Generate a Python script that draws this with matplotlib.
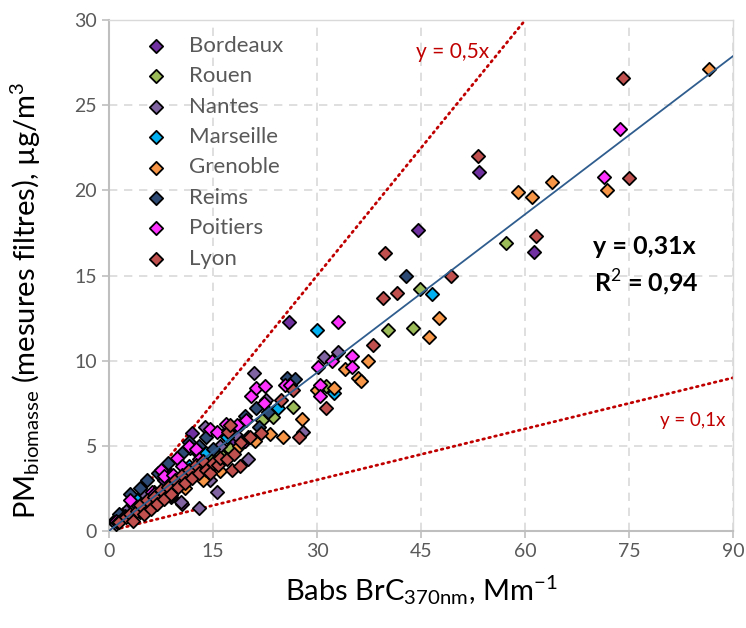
'''Scatter of PM biomasse vs Babs BrC 370nm, per city, with fit and 0.1x/0.5x bounds'''

import matplotlib
matplotlib.use("Agg")
import matplotlib.pyplot as plt

plt.rcParams['font.family'] = ['Lato', 'DejaVu Sans']
plt.rcParams['mathtext.fontset'] = 'custom'
plt.rcParams['mathtext.rm'] = 'Lato'

# data
cities = ["Bordeaux", "Rouen", "Nantes", "Marseille", "Grenoble", "Reims", "Poitiers", "Lyon"]
colors = ["#7030A0", "#9BBB59", "#8064A2", "#00B0F0", "#F79646", "#2C4A74", "#FF33FF", "#C0504D"]

bordeaux_x = [0.8, 2.0, 3.5, 8.0, 10.5, 12.0, 14.0, 18.0, 26.0, 44.6, 53.4, 61.2]
bordeaux_y = [0.6, 1.0, 1.6, 3.0, 1.6, 5.75, 4.5, 5.2, 12.3, 17.7, 21.1, 16.4]

rouen_x = [1.5, 3.0, 5.0, 6.5, 8.0, 9.5, 11.0, 12.5, 14.5, 16.0, 17.5, 22.0, 23.7, 26.5,
           31.3, 40.2, 43.8, 44.9, 57.3]
rouen_y = [0.8, 1.2, 1.5, 2.3, 2.0, 2.8, 3.0, 3.7, 4.2, 4.5, 4.8, 6.5, 6.7, 7.3,
           8.5, 11.8, 11.9, 14.2, 16.9]

nantes_x = [1.0, 2.5, 5.0, 9.0, 10.4, 11.7, 13.0, 13.8, 14.5, 15.6, 16.0, 18.5, 20.0, 20.9,
            22.6, 28.0, 31.0, 33.0]
nantes_y = [0.4, 1.2, 2.2, 2.0, 1.7, 4.9, 1.35, 6.1, 3.0, 2.3, 5.0, 5.6, 4.2, 9.3,
            7.7, 5.8, 10.2, 10.5]

marseille_x = [2.0, 4.0, 6.0, 9.0, 11.5, 13.0, 14.0, 17.0, 19.0, 24.4, 30.0, 32.5, 46.6]
marseille_y = [0.9, 1.8, 2.0, 3.3, 3.8, 4.5, 4.6, 5.5, 6.3, 7.2, 11.8, 8.1, 13.9]

grenoble_x = [3.0, 5.0, 7.0, 9.0, 11.0, 13.5, 16.0, 18.8, 21.1, 23.2, 25.1, 27.8, 30.0, 32.4,
              34.0, 35.9, 36.3, 37.4, 46.2, 47.6, 59.0, 61.0, 63.8, 71.8, 86.5]
grenoble_y = [0.8, 1.2, 1.8, 2.1, 2.5, 3.0, 3.5, 5.0, 5.3, 5.7, 5.5, 6.6, 8.3, 8.4,
              9.5, 9.0, 8.8, 10.0, 11.4, 12.5, 19.9, 19.6, 20.5, 20.0, 27.1]

reims_x = [1.5, 3.0, 4.5, 5.5, 7.1, 8.5, 10.5, 11.5, 13.0, 14.0, 15.0, 17.3, 19.6, 21.2,
           21.6, 23.0, 25.7, 26.8, 42.8]
reims_y = [1.0, 2.2, 2.5, 3.0, 3.4, 4.0, 4.6, 5.2, 5.0, 5.5, 4.8, 6.0, 6.75, 7.2,
           6.1, 7.0, 9.0, 8.9, 15.0]

poitiers_x = [1.0, 1.3, 2.3, 3.0, 4.5, 5.2, 6.2, 6.5, 7.5, 8.0, 9.2, 9.8, 10.5, 11.5, 12.5,
              13.0, 14.5, 15.6, 16.9, 18.5, 19.6, 19.8, 20.5, 21.2, 22.4, 22.5, 25.4, 26.1,
              30.1, 30.4, 30.4, 32.2, 33.0, 35.0, 35.0, 71.3, 73.7]
poitiers_y = [0.6, 0.5, 0.9, 1.8, 1.1, 1.4, 2.3, 2.2, 3.6, 3.2, 3.3, 4.3, 3.8, 5.0, 4.8,
              4.2, 6.0, 5.8, 6.3, 6.2, 5.3, 6.5, 7.9, 8.4, 7.5, 8.5, 8.6, 8.6,
              9.6, 8.6, 7.9, 10.0, 12.3, 10.3, 9.6, 20.8, 23.6]

lyon_x = [1.5, 2.5, 3.0, 3.5, 4.0, 4.5, 5.0, 5.5, 6.0, 6.5, 7.0, 7.5, 8.0, 8.5, 9.0, 9.5,
          10.0, 10.5, 11.0, 11.5, 12.0, 12.5, 13.0, 13.5, 14.0, 14.6, 15.0, 15.7, 16.0,
          17.0, 17.2, 17.5, 17.7, 18.0, 18.9, 19.0, 20.0, 20.3, 21.9, 24.8, 26.5, 27.4,
          31.3, 38.1, 39.5, 39.8, 41.5, 49.3, 53.2, 61.6, 74.1, 75.0]
lyon_y = [0.5, 0.8, 1.0, 0.6, 1.2, 1.5, 1.0, 1.8, 1.3, 2.0, 1.6, 2.4, 1.9, 2.6, 2.2, 3.0,
          2.6, 3.3, 2.8, 3.6, 3.1, 3.9, 3.4, 4.1, 3.6, 3.4, 4.0, 3.9, 4.3,
          4.2, 5.8, 6.2, 3.6, 4.5, 3.8, 5.2, 5.5, 5.5, 5.75, 7.7, 8.3, 5.5,
          7.2, 10.9, 13.7, 16.3, 14.0, 15.0, 22.0, 17.3, 26.6, 20.7]

series_x = [bordeaux_x, rouen_x, nantes_x, marseille_x, grenoble_x, reims_x, poitiers_x, lyon_x]
series_y = [bordeaux_y, rouen_y, nantes_y, marseille_y, grenoble_y, reims_y, poitiers_y, lyon_y]

slope_fit = 0.31
r2 = 0.94
bounds = [0.5, 0.1]

grey = "#595959"

fig, ax = plt.subplots(figsize=(7.46, 6.28), dpi=100)
fig.subplots_adjust(left=0.146, right=0.983, bottom=0.1545, top=0.968)

# reference lines
ax.plot([0, 60], [0, 60 * bounds[0]], color="#C00000", lw=2, ls=(0, (0.6, 1.6)),
        dash_capstyle='round', zorder=1)
ax.plot([0, 90], [0, 90 * bounds[1]], color="#C00000", lw=2, ls=(0, (0.6, 1.6)),
        dash_capstyle='round', zorder=1)

for name, col, xs, ys in zip(cities, colors, series_x, series_y):
    ax.scatter(xs, ys, marker='D', s=46, facecolor=col, edgecolor='black',
               linewidths=1.3, label=name, zorder=3)

# fit line
ax.plot([0, 90], [0, 90 * slope_fit], color="#2F5D8E", lw=1.3, zorder=4)

ax.text(49.5, 28.1, "y = 0,5x", color="#C00000", fontsize=15, ha='center', va='center')
ax.text(84.1, 6.5, "y = 0,1x", color="#C00000", fontsize=13.5, ha='center', va='center')
ax.text(77.2, 16.7, "y = 0,31x", color="black", fontsize=18, fontweight='bold',
        ha='center', va='center')
ax.text(77.4, 14.6, "R$^{2}$ = " + "{:.2f}".format(r2).replace(".", ","),
        color="black", fontsize=18, fontweight='bold', ha='center', va='center')

ax.set_xlim(0, 90)
ax.set_ylim(0, 30)
ax.set_xticks(range(0, 91, 15))
ax.set_yticks(range(0, 31, 5))
ax.grid(True, color="#D9D9D9", ls=(0, (5, 4)), lw=1.2, zorder=0)
ax.set_axisbelow(True)
for side in ['left', 'bottom']:
    ax.spines[side].set_color("#BFBFBF")
    ax.spines[side].set_linewidth(1.5)
for side in ['top', 'right']:
    ax.spines[side].set_color("#D9D9D9")
    ax.spines[side].set_linewidth(1.0)
ax.tick_params(colors="#BFBFBF", labelcolor=grey, labelsize=14, length=5, width=1.2)

ax.set_ylabel(r"PM$\mathregular{_{biomasse}}$ (mesures filtres), µg/m$\mathregular{^{3}}$",
              fontsize=21, color="black")
ax.yaxis.set_label_coords(-0.105, 0.452)
ax.set_xlabel(r"Babs BrC$\mathregular{_{370nm}}$, Mm$\mathregular{^{-1}}$",
              fontsize=21, color="black", labelpad=10)

leg = ax.legend(loc='upper left', bbox_to_anchor=(0.015, 1.0), frameon=False,
                fontsize=16, labelcolor=grey, handletextpad=0.5, labelspacing=0.47,
                borderaxespad=0.3)

plt.savefig("out.png", dpi=100)
